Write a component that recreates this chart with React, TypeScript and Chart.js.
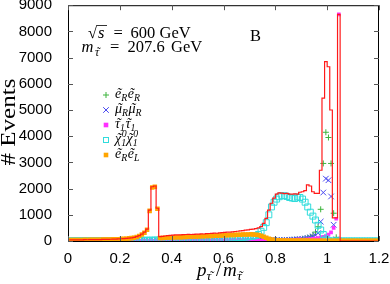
import React, { useEffect, useRef } from "react";
import { Chart, registerables } from "chart.js";
Chart.register(...registerables);

// ---- data (bin centres of 0.01-wide bins) ----
const binCenters = [
  0.005, 0.015, 0.025, 0.035, 0.045, 0.055, 0.065, 0.075, 0.085, 0.095,
  0.105, 0.115, 0.125, 0.135, 0.145, 0.155, 0.165, 0.175, 0.185, 0.195,
  0.205, 0.215, 0.225, 0.235, 0.245, 0.255, 0.265, 0.275, 0.285, 0.295,
  0.305, 0.315, 0.325, 0.335, 0.345, 0.355, 0.365, 0.375, 0.385, 0.395,
  0.405, 0.415, 0.425, 0.435, 0.445, 0.455, 0.465, 0.475, 0.485, 0.495,
  0.505, 0.515, 0.525, 0.535, 0.545, 0.555, 0.565, 0.575, 0.585, 0.595,
  0.605, 0.615, 0.625, 0.635, 0.645, 0.655, 0.665, 0.675, 0.685, 0.695,
  0.705, 0.715, 0.725, 0.735, 0.745, 0.755, 0.765, 0.775, 0.785, 0.795,
  0.805, 0.815, 0.825, 0.835, 0.845, 0.855, 0.865, 0.875, 0.885, 0.895,
  0.905, 0.915, 0.925, 0.935, 0.945, 0.955, 0.965, 0.975, 0.985, 0.995,
  1.005, 1.015, 1.025, 1.035, 1.045, 1.055, 1.065, 1.075, 1.085, 1.095,
  1.105, 1.115, 1.125, 1.135, 1.145, 1.155, 1.165, 1.175, 1.185, 1.195,
];

// total (red histogram)
const totalEvents = [
  40, 42, 45, 42, 46, 45, 50, 47, 50, 52,
  52, 55, 56, 60, 62, 65, 66, 70, 75, 80,
  86, 92, 100, 110, 122, 140, 165, 205, 265, 340,
  450, 1180, 2070, 2100, 1250, 165, 175, 190, 205, 215,
  225, 230, 235, 232, 240, 248, 252, 248, 256, 262,
  265, 272, 268, 280, 286, 290, 300, 296, 310, 322,
  330, 336, 342, 352, 362, 372, 386, 396, 412, 428,
  445, 456, 472, 500, 545, 675, 865, 1180, 1440, 1640,
  1790, 1840, 1830, 1810, 1820, 1790, 1790, 1800, 1790, 1860,
  1880, 1920, 2140, 2100, 1880, 1820, 1820, 2700, 5450, 6850,
  6650, 5000, 880, 880, 8650, 0, 0, 0, 0, 0,
  0, 0, 0, 0, 0, 0, 0, 0, 0, 0,
];

// e_R e_R (green +)
const eReR = [
  2, 2, 3, 2, 3, 3, 3, 3, 4, 3,
  4, 4, 4, 4, 5, 4, 5, 5, 5, 5,
  5, 6, 5, 6, 6, 6, 7, 6, 7, 7,
  7, 7, 8, 7, 8, 8, 8, 8, 9, 9,
  9, 9, 10, 9, 10, 10, 10, 11, 10, 11,
  11, 11, 12, 11, 12, 12, 12, 13, 13, 13,
  14, 14, 14, 15, 15, 15, 16, 16, 17, 17,
  18, 18, 19, 19, 20, 21, 22, 23, 24, 25,
  27, 29, 32, 35, 38, 42, 46, 52, 58, 66,
  80, 100, 125, 160, 220, 340, 545, 1210, 2960, 4150,
  3950, 2960, 1060, 140, 0, 0, 0, 0, 0, 0,
  0, 0, 0, 0, 0, 0, 0, 0, 0, 0,
];

// mu_R mu_R (blue x)
const muRmuR = [
  2, 2, 2, 3, 2, 3, 3, 3, 3, 3,
  3, 4, 3, 4, 4, 4, 4, 5, 4, 5,
  5, 5, 5, 6, 5, 6, 6, 6, 6, 7,
  7, 7, 7, 8, 7, 8, 8, 8, 9, 8,
  9, 9, 9, 10, 10, 10, 10, 11, 11, 11,
  11, 12, 12, 12, 12, 13, 13, 13, 14, 14,
  14, 15, 15, 15, 16, 16, 17, 17, 18, 18,
  19, 19, 20, 21, 22, 22, 23, 24, 25, 27,
  28, 30, 33, 36, 40, 44, 48, 54, 60, 68,
  78, 92, 110, 135, 170, 220, 300, 740, 1850, 2380,
  2320, 1700, 620, 60, 0, 0, 0, 0, 0, 0,
  0, 0, 0, 0, 0, 0, 0, 0, 0, 0,
];

// tau_1 tau_1 (magenta filled squares)
const tau1tau1 = [
  1, 1, 2, 1, 2, 2, 2, 2, 2, 3,
  3, 3, 3, 3, 3, 4, 4, 4, 4, 4,
  4, 5, 5, 5, 5, 5, 6, 6, 6, 6,
  6, 7, 7, 7, 7, 7, 8, 8, 8, 8,
  8, 9, 9, 9, 9, 10, 10, 10, 10, 11,
  11, 11, 11, 12, 12, 12, 12, 13, 13, 13,
  13, 14, 14, 14, 15, 15, 15, 16, 16, 16,
  17, 17, 18, 18, 19, 19, 20, 20, 21, 21,
  22, 24, 27, 30, 34, 38, 43, 48, 55, 62,
  45, 52, 60, 70, 82, 96, 112, 135, 160, 190,
  240, 330, 500, 850, 8650, 0, 0, 0, 0, 0,
  0, 0, 0, 0, 0, 0, 0, 0, 0, 0,
];

// chi_1^0 chi_1^0 (cyan open squares)
const chi1chi1 = [
  8, 8, 9, 9, 10, 10, 10, 11, 11, 12,
  12, 12, 13, 13, 14, 14, 15, 15, 16, 17,
  17, 18, 19, 20, 21, 22, 23, 25, 26, 28,
  29, 30, 32, 34, 36, 38, 40, 42, 44, 46,
  48, 50, 52, 54, 56, 58, 60, 62, 64, 66,
  68, 70, 72, 74, 76, 78, 80, 82, 85, 88,
  95, 100, 105, 110, 118, 125, 132, 140, 150, 160,
  170, 185, 210, 250, 370, 520, 700, 1000, 1300, 1480,
  1600, 1690, 1730, 1730, 1700, 1660, 1640, 1620, 1680, 1660,
  1600, 1480, 1300, 1100, 950, 800, 600, 420, 250, 80,
  10, 0, 0, 0, 0, 0, 0, 0, 0, 0,
  0, 0, 0, 0, 0, 0, 0, 0, 0, 0,
];

// e_R e_L (orange filled squares)
const eReL = [
  35, 36, 40, 37, 40, 40, 44, 41, 44, 46,
  46, 48, 50, 53, 55, 58, 59, 62, 66, 71,
  76, 82, 90, 100, 110, 128, 150, 188, 245, 318,
  430, 1150, 2040, 2070, 1230, 112, 118, 124, 130, 134,
  138, 142, 146, 148, 152, 156, 160, 163, 168, 172,
  176, 180, 184, 188, 192, 196, 200, 205, 210, 214,
  218, 222, 226, 230, 234, 238, 242, 246, 250, 252,
  255, 250, 242, 228, 200, 165, 125, 88, 58, 38,
  28, 24, 22, 20, 18, 18, 16, 16, 15, 15,
  14, 14, 14, 13, 13, 13, 12, 12, 12, 12,
  12, 12, 11, 11, 11, 10, 10, 10, 10, 10,
  10, 10, 10, 9, 9, 9, 9, 8, 8, 8,
];

const xTicks = [0, 0.2, 0.4, 0.6, 0.8, 1.0, 1.2];
const yTicks = [0, 1000, 2000, 3000, 4000, 5000, 6000, 7000, 8000, 9000];

const C_GREEN = "#3cb43c";
const C_BLUE = "#4848f0";
const C_MAGENTA = "#ff30ff";
const C_CYAN = "#30dcdc";
const C_ORANGE = "#ffa500";
const C_RED = "#ff1a1a";

const SERIF = "'Liberation Serif', 'Times New Roman', serif";

type Piece = { t: string; tilde?: boolean; sub?: string; sup?: string; it?: boolean };

function drawMath(ctx: CanvasRenderingContext2D, x: number, base: number, pieces: Piece[], size: number) {
  ctx.textBaseline = "alphabetic";
  for (const p of pieces) {
    ctx.textAlign = "left";
    ctx.font = `${p.it ? "italic " : ""}${size}px ${SERIF}`;
    const w = ctx.measureText(p.t).width;
    ctx.fillText(p.t, x, base);
    if (p.tilde) {
      ctx.textAlign = "center";
      ctx.fillText("\u02DC", x + w / 2 + (p.it ? size * 0.07 : 0), base);
      ctx.textAlign = "left";
    }
    x += w;
    if (p.sub || p.sup) {
      const ss = size * 0.7;
      ctx.font = `italic ${ss}px ${SERIF}`;
      let ww = 0;
      if (p.sup) {
        ctx.fillText(p.sup, x + 0.5, base - size * 0.4);
        ww = Math.max(ww, ctx.measureText(p.sup).width);
      }
      if (p.sub) {
        ctx.fillText(p.sub, x, base + size * 0.22);
        ww = Math.max(ww, ctx.measureText(p.sub).width);
      }
      x += ww + 0.5;
    }
  }
  return x;
}

const legendItems: { style: string; color: string; label: Piece[] }[] = [
  { style: "cross", color: C_GREEN, label: [{ t: "e", tilde: true, it: true, sub: "R" }, { t: "e", tilde: true, it: true, sub: "R" }] },
  { style: "crossRot", color: C_BLUE, label: [{ t: "\u03BC", tilde: true, it: true, sub: "R" }, { t: "\u03BC", tilde: true, it: true, sub: "R" }] },
  { style: "rect", color: C_MAGENTA, label: [{ t: "\u03C4", tilde: true, it: true, sub: "1" }, { t: "\u03C4", tilde: true, it: true, sub: "1" }] },
  { style: "rectOpen", color: C_CYAN, label: [{ t: "\u03C7", tilde: true, it: true, sub: "1", sup: "0" }, { t: "\u03C7", tilde: true, it: true, sub: "1", sup: "0" }] },
  { style: "rect", color: C_ORANGE, label: [{ t: "e", tilde: true, it: true, sub: "R" }, { t: "e", tilde: true, it: true, sub: "L" }] },
];

const decorPlugin = {
  id: "decor",
  afterDraw(chart: any) {
    const ctx: CanvasRenderingContext2D = chart.ctx;
    const { left, right, top, bottom } = chart.chartArea;
    const xs = chart.scales.x;
    const ys = chart.scales.y;
    ctx.save();
    // frame
    ctx.strokeStyle = "#000";
    ctx.lineWidth = 1;
    ctx.strokeRect(left + 0.5, top + 0.5, right - left - 1, bottom - top);
    // inner ticks
    ctx.strokeStyle = "#555";
    ctx.beginPath();
    for (const v of yTicks) {
      const py = Math.round(ys.getPixelForValue(v)) + 0.5;
      ctx.moveTo(left, py); ctx.lineTo(left + 5, py);
      ctx.moveTo(right, py); ctx.lineTo(right - 5, py);
    }
    for (const v of xTicks) {
      const px = Math.round(xs.getPixelForValue(v)) + 0.5;
      ctx.moveTo(px, bottom); ctx.lineTo(px, bottom - 5);
      ctx.moveTo(px, top); ctx.lineTo(px, top + 5);
    }
    ctx.stroke();

    ctx.fillStyle = "#000";
    // sqrt(s) = 600 GeV
    ctx.font = `16.5px ${SERIF}`;
    ctx.textAlign = "left";
    ctx.textBaseline = "alphabetic";
    ctx.fillText("\u221A", 88, 38);
    ctx.font = `italic 16.5px ${SERIF}`;
    ctx.fillText("s", 98, 38);
    ctx.beginPath();
    ctx.strokeStyle = "#000";
    ctx.lineWidth = 0.8;
    ctx.moveTo(96.5, 25.5); ctx.lineTo(107, 25.5);
    ctx.stroke();
    ctx.font = `16.5px ${SERIF}`;
    ctx.fillText("=", 113.5, 38);
    ctx.fillText("600", 130.5, 38);
    ctx.fillText("GeV", 159.5, 38);
    // m_stau = 207.6 GeV
    drawMath(ctx, 81.5, 52, [{ t: "m", it: true }], 16.5);
    ctx.font = `italic 11.5px ${SERIF}`;
    ctx.fillText("\u03C4", 95, 55.5);
    ctx.textAlign = "center";
    ctx.fillText("\u02DC", 98.2, 55.5);
    ctx.textAlign = "left";
    ctx.font = `16.5px ${SERIF}`;
    ctx.fillText("=", 110, 52);
    ctx.fillText("207.6", 127.5, 52);
    ctx.fillText("GeV", 171, 52);
    // B
    ctx.font = `16.5px ${SERIF}`;
    ctx.fillText("B", 250, 41);

    // legend
    const rows = [95, 110, 125, 140, 155];
    legendItems.forEach((it, i) => {
      const cy = rows[i];
      const cx = 106;
      ctx.save();
      ctx.strokeStyle = it.color;
      ctx.fillStyle = it.color;
      ctx.lineWidth = 1;
      ctx.beginPath();
      if (it.style === "cross") {
        ctx.moveTo(cx - 3, cy); ctx.lineTo(cx + 3, cy);
        ctx.moveTo(cx, cy - 3); ctx.lineTo(cx, cy + 3);
        ctx.stroke();
      } else if (it.style === "crossRot") {
        ctx.moveTo(cx - 2.8, cy - 2.8); ctx.lineTo(cx + 2.8, cy + 2.8);
        ctx.moveTo(cx - 2.8, cy + 2.8); ctx.lineTo(cx + 2.8, cy - 2.8);
        ctx.stroke();
      } else if (it.style === "rectOpen") {
        ctx.strokeRect(cx - 2.5, cy - 2.5, 5, 5);
      } else {
        ctx.fillRect(cx - 2.3, cy - 2.3, 4.6, 4.6);
      }
      ctx.restore();
      ctx.fillStyle = "#000";
      drawMath(ctx, 115, cy + 3, it.label, 14);
    });

    // y title
    ctx.save();
    ctx.translate(15, 122);
    ctx.rotate(-Math.PI / 2);
    ctx.scale(1.25, 1);
    ctx.font = `20px ${SERIF}`;
    ctx.textAlign = "center";
    ctx.textBaseline = "alphabetic";
    ctx.fillStyle = "#000";
    ctx.fillText("# Events", 0, 0);
    ctx.restore();

    // x title  p_stau / m_stau
    ctx.fillStyle = "#000";
    drawMath(ctx, 197, 276, [{ t: "p", it: true, sub: "\u03C4" }], 19);
    ctx.font = `italic 13px ${SERIF}`;
    ctx.textAlign = "center";
    ctx.fillText("\u02DC", 211.5, 280);
    ctx.textAlign = "left";
    ctx.font = `19px ${SERIF}`;
    ctx.fillText("/", 216, 276);
    ctx.font = `italic 19px ${SERIF}`;
    ctx.fillText("m", 223, 276);
    ctx.font = `italic 13.3px ${SERIF}`;
    ctx.fillText("\u03C4", 237, 280);
    ctx.textAlign = "center";
    ctx.fillText("\u02DC", 240.5, 280);
    ctx.restore();
  },
};

function pts(arr: number[]) {
  return binCenters.map((c, i) => ({ x: c, y: arr[i] }));
}

export default function App() {
  const ref = useRef<HTMLCanvasElement>(null);
  useEffect(() => {
    if (!ref.current) return;
    const chart = new Chart(ref.current, {
      type: "line",
      data: {
        datasets: [
          {
            label: "total",
            data: pts(totalEvents),
            borderColor: C_RED,
            borderWidth: 1.2,
            pointRadius: 0,
            stepped: "middle",
            fill: false,
            order: 0,
          } as any,
          {
            label: "eReL",
            data: pts(eReL),
            showLine: false,
            pointStyle: "rect",
            pointRadius: 3.2,
            pointBackgroundColor: C_ORANGE,
            pointBorderColor: C_ORANGE,
            pointBorderWidth: 0,
            order: 1,
          },
          {
            label: "chi",
            data: pts(chi1chi1),
            showLine: false,
            pointStyle: "rect",
            pointRadius: 4.2,
            pointBackgroundColor: "rgba(0,0,0,0)",
            pointBorderColor: C_CYAN,
            pointBorderWidth: 1,
            order: 2,
          },
          {
            label: "stau",
            data: pts(tau1tau1),
            showLine: false,
            pointStyle: "rect",
            pointRadius: 2.6,
            pointBackgroundColor: C_MAGENTA,
            pointBorderColor: C_MAGENTA,
            pointBorderWidth: 0,
            order: 3,
          },
          {
            label: "smu",
            data: pts(muRmuR),
            showLine: false,
            pointStyle: "crossRot",
            pointRadius: 4,
            pointBorderColor: C_BLUE,
            pointBorderWidth: 1,
            order: 4,
          },
          {
            label: "seR",
            data: pts(eReR),
            showLine: false,
            pointStyle: "cross",
            pointRadius: 3,
            pointBorderColor: C_GREEN,
            pointBorderWidth: 1,
            order: 5,
          },
        ],
      },
      options: {
        animation: false,
        responsive: false,
        maintainAspectRatio: false,
        events: [],
        layout: { padding: { top: 5, right: 11, left: 0, bottom: 0 } },
        plugins: { legend: { display: false }, tooltip: { enabled: false }, title: { display: false } },
        scales: {
          x: {
            type: "linear",
            min: 0,
            max: 1.2,
            grid: { display: false },
            border: { display: false },
            afterBuildTicks: (s: any) => { s.ticks = xTicks.map((v) => ({ value: v })); },
            afterFit: (s: any) => { s.height = 43; s.paddingLeft = 0; s.paddingRight = 0; },
            ticks: {
              autoSkip: false,
              maxRotation: 0,
              padding: 1,
              color: "#000",
              font: { family: "'Liberation Sans', Arial, sans-serif", size: 15 },
              callback: (v: any) => String(Math.round(Number(v) * 10) / 10),
            },
          },
          y: {
            type: "linear",
            min: 0,
            max: 9000,
            grid: { display: false },
            border: { display: false },
            afterBuildTicks: (s: any) => { s.ticks = yTicks.map((v) => ({ value: v })); },
            afterFit: (s: any) => { s.width = 68; s.paddingTop = 0; s.paddingBottom = 0; },
            ticks: {
              padding: 8,
              color: "#000",
              font: { family: "'Liberation Sans', Arial, sans-serif", size: 15 },
              callback: (v: any) => String(v),
            },
          },
        },
      },
      plugins: [decorPlugin],
    });
    return () => chart.destroy();
  }, []);
  return (
    <div style={{ position: "fixed", left: 0, top: 0, width: 390, height: 284, background: "#fff" }}>
      <canvas ref={ref} width={390} height={284} style={{ width: 390, height: 284, display: "block" }} />
    </div>
  );
}
